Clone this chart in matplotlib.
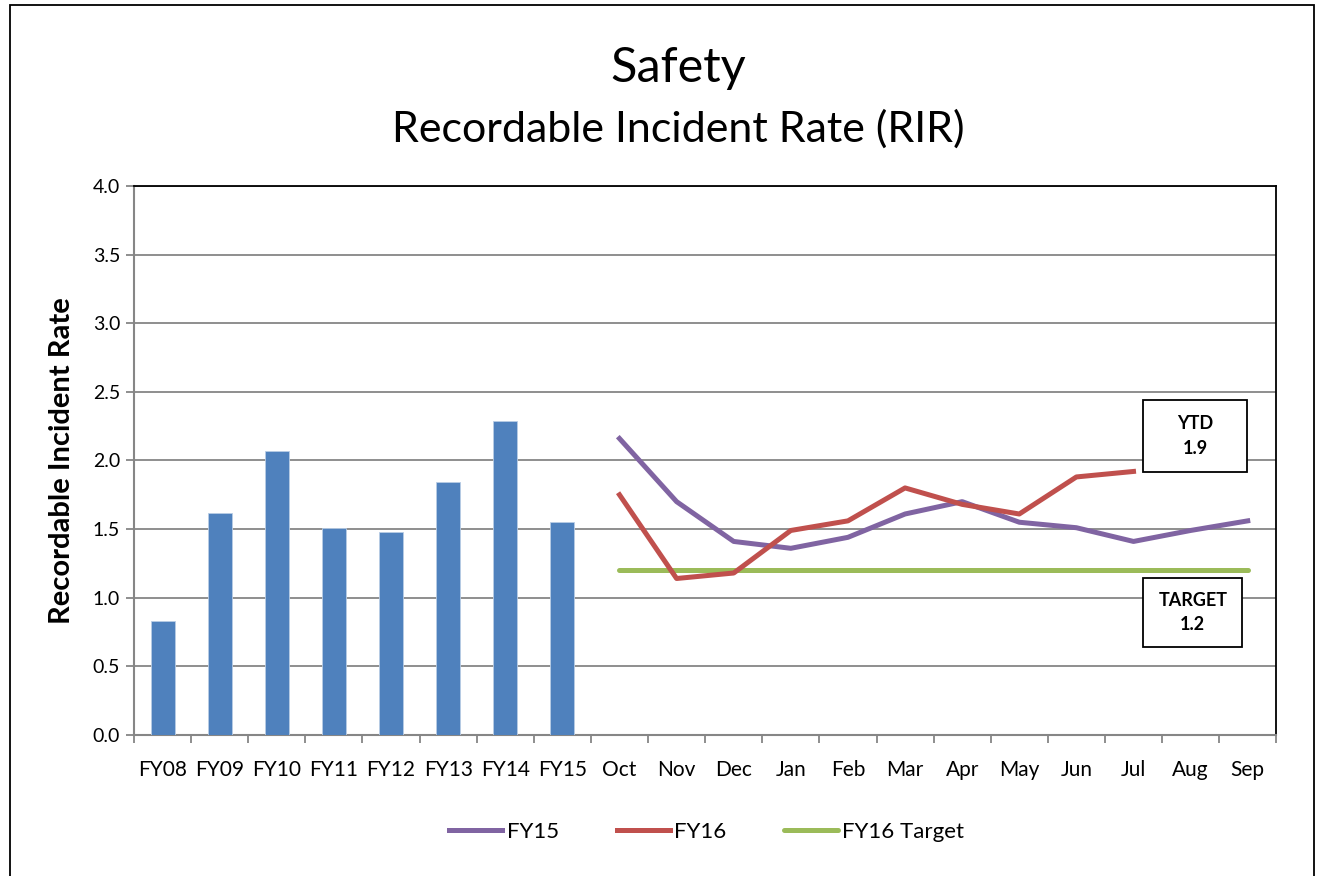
import matplotlib
matplotlib.use("Agg")
import matplotlib.pyplot as plt
from matplotlib.patches import Rectangle
import numpy as np

plt.rcParams['font.family'] = ['Lato', 'DejaVu Sans']

# data
years = ["FY08", "FY09", "FY10", "FY11", "FY12", "FY13", "FY14", "FY15"]
yearRIR = [0.83, 1.62, 2.07, 1.51, 1.48, 1.84, 2.29, 1.55]
months = ["Oct", "Nov", "Dec", "Jan", "Feb", "Mar", "Apr", "May", "Jun", "Jul", "Aug", "Sep"]
fy15 = [2.16, 1.70, 1.41, 1.36, 1.44, 1.61, 1.70, 1.55, 1.51, 1.41, 1.49, 1.56]
fy16 = [1.75, 1.14, 1.18, 1.49, 1.56, 1.80, 1.68, 1.61, 1.88, 1.92]
target = [1.2] * 12
ytdText = "YTD\n1.9"
targetText = "TARGET\n1.2"

labels = years + months
xYears = np.arange(len(years))
xMonths = np.arange(len(years), len(labels))

fig = plt.figure(figsize=(13.23, 8.76), dpi=100)
ax = fig.add_axes([0.1013, 0.161, 0.8634, 0.6267])

# outer chart border
fig.patches.append(Rectangle((10/1323, -0.05), 1304/1323, 1.05 - 5/876, transform=fig.transFigure,
                             fill=False, edgecolor="black", linewidth=1.3))

grid = "#868686"
ax.bar(xYears, yearRIR, width=0.42, color="#4F81BD", edgecolor="#B9CDE5", linewidth=0.6, zorder=3)
ax.plot(xMonths, fy15, color="#8064A2", linewidth=3.6, label="FY15", zorder=4)
ax.plot(xMonths[:len(fy16)], fy16, color="#C0504D", linewidth=3.6, label="FY16", zorder=5)
ax.plot(xMonths, target, color="#9BBB59", linewidth=3.6, label="FY16 Target", zorder=4,
        solid_capstyle="round")

ax.set_xlim(-0.5, len(labels) - 0.5)
ax.set_ylim(0, 4)
ax.set_yticks(np.arange(0, 4.01, 0.5))
ax.set_yticklabels([f"{v:.1f}" for v in np.arange(0, 4.01, 0.5)], fontsize=14)
ax.set_xticks(np.arange(len(labels)))
ax.set_xticklabels(labels, fontsize=15)
ax.set_xticks(np.arange(-0.5, len(labels), 1), minor=True)
ax.tick_params(axis="x", which="major", length=0, pad=18)
ax.tick_params(axis="x", which="minor", length=6, color=grid, width=1.3, direction="out")
ax.tick_params(axis="y", length=6, color=grid, width=1.3, pad=4)
ax.yaxis.grid(True, color=grid, linewidth=1.3, zorder=0)
ax.set_axisbelow(True)
for s in ["left", "bottom"]:
    ax.spines[s].set_color(grid)
    ax.spines[s].set_linewidth(1.5)
for s in ["top", "right"]:
    ax.spines[s].set_color("black")
    ax.spines[s].set_linewidth(1.3)

ax.set_ylabel("Recordable Incident Rate", fontsize=21, fontweight="bold", labelpad=13)

fig.text(0.513, 0.922, "Safety", ha="center", va="center", fontsize=35)
fig.text(0.513, 0.853, "Recordable Incident Rate (RIR)", ha="center", va="center", fontsize=31)

# annotation boxes (axes fraction)
for (x0, y0, w, h), txt in [((0.8837, 0.479, 0.0909, 0.1311), ytdText),
                            ((0.8837, 0.1603, 0.0865, 0.1257), targetText)]:
    ax.add_patch(Rectangle((x0, y0), w, h, transform=ax.transAxes, facecolor="white",
                           edgecolor="black", linewidth=1.3, zorder=6))
    ax.text(x0 + w / 2, y0 + h / 2, txt, transform=ax.transAxes, ha="center", va="center",
            fontsize=13, fontweight="bold", linespacing=1.55, zorder=7)

fig.legend(loc="center", bbox_to_anchor=(0.534, 0.05), ncol=3, frameon=False, fontsize=16,
           handlelength=2.4, handletextpad=0.2, columnspacing=2.6)

fig.savefig("out.png", dpi=100)
